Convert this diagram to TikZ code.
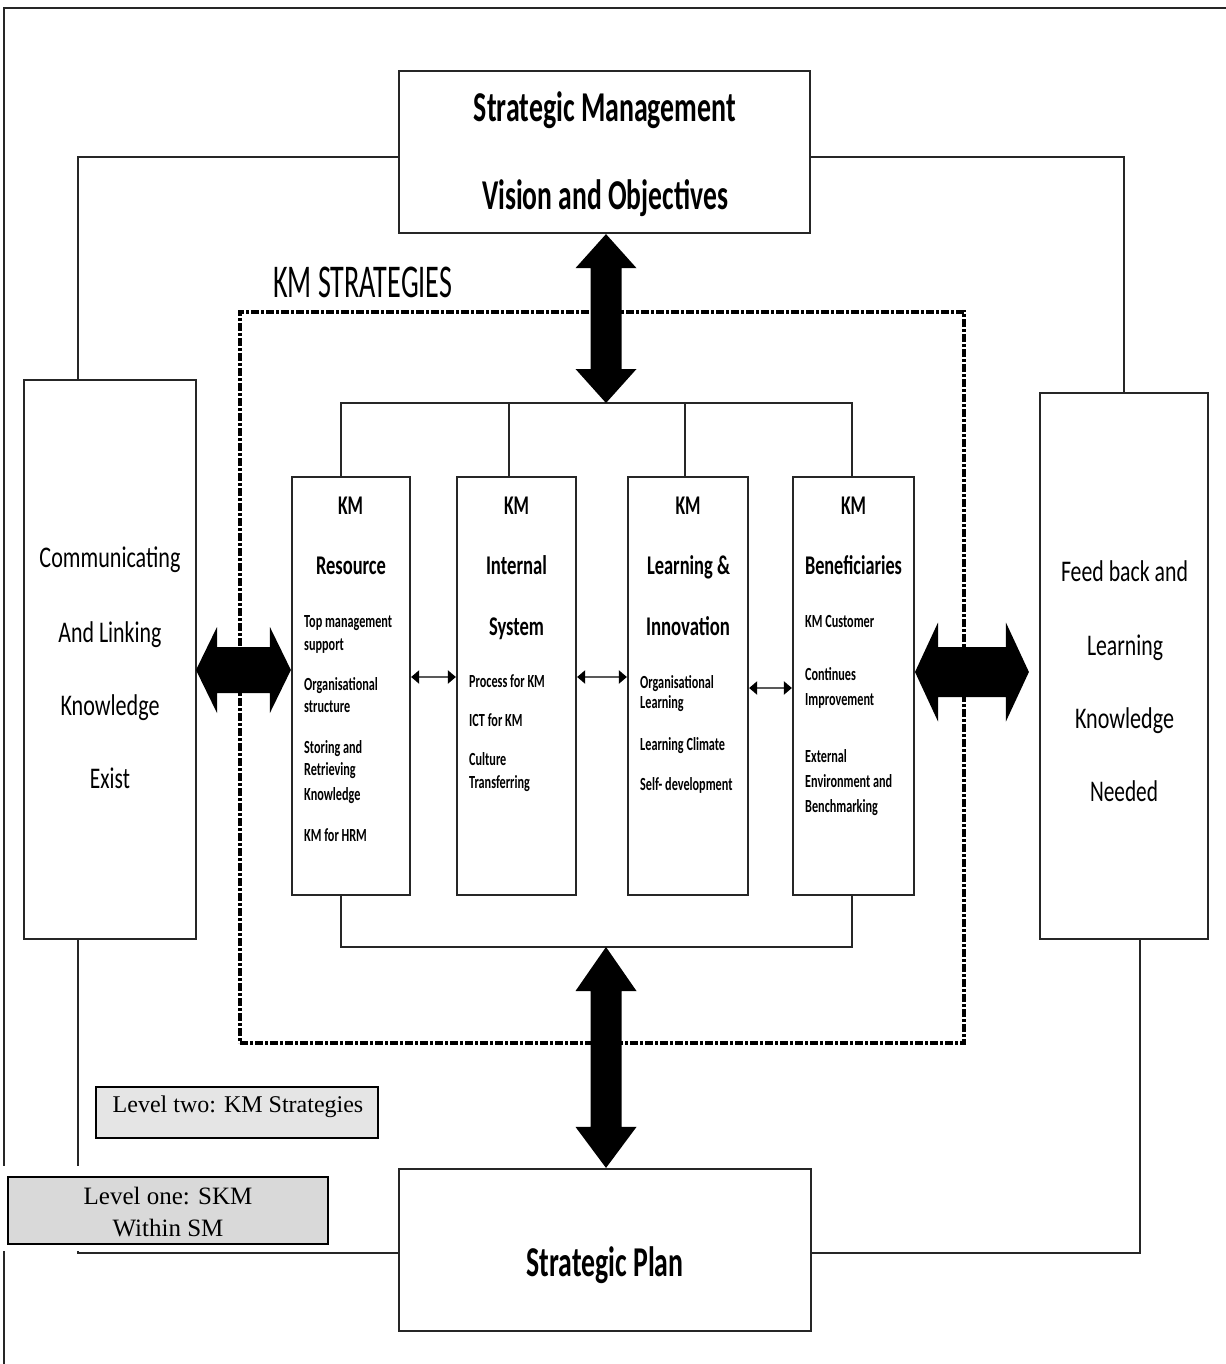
\documentclass[tikz,border=0pt]{standalone}
\usepackage{fontspec}
\usepackage{graphicx}
\setmainfont{Carlito}[FakeStretch=0.66]
\newfontfamily\tnrfont{Liberation Serif}
\usetikzlibrary{calc,arrows.meta}

% squeeze a label to a given width, keeping its natural height
\newcommand\wfit[2]{\resizebox{#1}{\height}{#2}}

% vertical double block arrow: top point, bottom point, top head length, bottom head length
\newcommand\vdarrow[4]{%
  \fill[black] let \p1=(#1), \p2=(#2) in
    (\x1,\y1) -- (\x1+30.5pt,\y1-#3) -- (\x1+15.5pt,\y1-#3) -- (\x1+15.5pt,\y2+#4)
    -- (\x1+30.5pt,\y2+#4) -- (\x1,\y2) -- (\x1-30.5pt,\y2+#4) -- (\x1-15.5pt,\y2+#4)
    -- (\x1-15.5pt,\y1-#3) -- (\x1-30.5pt,\y1-#3) -- cycle;}

% horizontal double block arrow: left point, right point, half head, half shaft, head length
\newcommand\hdarrow[5]{%
  \fill[black] let \p1=(#1), \p2=(#2) in
    (\x1,\y1) -- (\x1+#5,\y1+#3) -- (\x1+#5,\y1+#4) -- (\x2-#5,\y1+#4)
    -- (\x2-#5,\y1+#3) -- (\x2,\y1) -- (\x2-#5,\y1-#3) -- (\x2-#5,\y1-#4)
    -- (\x1+#5,\y1-#4) -- (\x1+#5,\y1-#3) -- cycle;}

\begin{document}
\begin{tikzpicture}[x=1pt,y=-1pt,line join=miter,
  block/.style={draw=black!85,line width=2.2pt,rectangle,inner sep=0pt},
  conn/.style={draw=black!85,line width=2pt},
  bigtitle/.style={font=\fontsize{42.5}{50}\selectfont\bfseries,anchor=base,inner sep=0pt},
  sidetxt/.style={font=\fontsize{30}{36}\selectfont,anchor=base,inner sep=0pt},
  coltitle/.style={font=\fontsize{27}{32}\selectfont\bfseries,anchor=base,inner sep=0pt},
  item/.style={font=\fontsize{18.5}{22}\selectfont\bfseries,anchor=base west,inner sep=0pt},
  leveltxt/.style={font=\tnrfont\fontsize{24}{30}\selectfont,anchor=base,inner sep=0pt},
  levelbox/.style={draw=black,line width=2pt,rectangle,inner sep=0pt},
  smallarr/.style={draw=black!65,line width=2.2pt,
    {Triangle[length=8pt,width=13pt,color=black]}-{Triangle[length=8pt,width=13pt,color=black]}},
  kmdash/.style={draw=black,line width=3.5pt,rectangle,inner sep=0pt,
    dash pattern=on 8pt off 2pt on 3pt off 2pt}
]
\useasboundingbox (0,0) rectangle (1225,1364);
\fill[white] (0,0) rectangle (1225,1364);

% page frame (left and top edges)
\coordinate (frBL) at (4,1366);
\coordinate (frTL) at (4,8);
\coordinate (frTR) at (1227,8);
\draw[conn] (frBL) -- (frTL) -- (frTR);

% main blocks
\node[block,minimum width=411pt,minimum height=162pt] (sm) at (604.5,152) {};
\node[block,minimum width=412pt,minimum height=162pt] (sp) at (605,1250) {};
\node[block,minimum width=172pt,minimum height=559pt] (lb) at (110,659.5) {};
\node[block,minimum width=168pt,minimum height=546pt] (rb) at (1124,666) {};

% KM strategies area
\node[kmdash,minimum width=724pt,minimum height=731pt] (kmarea) at (602,677.5) {};
\node[font=\fontsize{47}{56}\selectfont,anchor=base west,inner sep=0pt] (kmlabel) at (273,297) {\wfit{179pt}{KM STRATEGIES}};

% strategy columns
\node[block,minimum width=118pt,minimum height=418pt] (b1) at (351,686) {};
\node[block,minimum width=119pt,minimum height=418pt] (b2) at (516.5,686) {};
\node[block,minimum width=120pt,minimum height=418pt] (b3) at (688,686) {};
\node[block,minimum width=121pt,minimum height=418pt] (b4) at (853.5,686) {};

% outer loop connectors
\draw[conn] ($(sm.west)+(0,5)$) -| ($(lb.north west)+(55,0)$);
\draw[conn] ($(sm.east)+(0,5)$) -| (rb.north);
\draw[conn] ($(lb.south west)+(55,0)$) |- ($(sp.west)+(0,3)$);
\draw[conn] ($(rb.south)+(16,0)$) |- ($(sp.east)+(0,3)$);

% brackets joining the columns
\coordinate (hubT) at (606,403);
\coordinate (hubB) at (606,947);
\coordinate (b1t) at ($(b1.north west)+(50,0)$);
\coordinate (b2t) at ($(b2.north)+(-7.5,0)$);
\coordinate (b3t) at ($(b3.north)+(-3,0)$);
\coordinate (b4t) at ($(b4.north)+(-1.5,0)$);
\coordinate (b1b) at ($(b1.south west)+(50,0)$);
\coordinate (b4b) at ($(b4.south)+(-1.5,0)$);
\draw[conn] (b1t) -- (b1t |- hubT) -- (b4t |- hubT) -- (b4t);
\draw[conn] (b2t) -- (b2t |- hubT);
\draw[conn] (b3t) -- (b3t |- hubT);
\draw[conn] (b1b) -- (b1b |- hubB) -- (b4b |- hubB) -- (b4b);

% block arrows
\vdarrow{sm.south -| hubT}{hubT}{34pt}{34pt}
\vdarrow{hubB}{sp.north -| hubB}{44pt}{41pt}
\coordinate (la) at (196,670);
\coordinate (ra) at (915,672);
\hdarrow{la}{b1.west |- la}{43pt}{23pt}{21pt}
\hdarrow{ra}{$(rb.west |- ra)+(-10,0)$}{49.5pt}{25pt}{23pt}

% arrows between columns
\draw[smallarr] (b1.east |- 0,677) -- (b2.west |- 0,677);
\draw[smallarr] (b2.east |- 0,677) -- (b3.west |- 0,677);
\draw[smallarr] (b3.east |- 0,688) -- (b4.west |- 0,688);

% titles of the main blocks
\node[bigtitle] (smt1) at (605,122) {\wfit{262pt}{Strategic Management}};
\node[bigtitle] (smt2) at (605,210) {\wfit{246pt}{Vision and Objectives}};
\node[bigtitle] (spt) at (605,1276) {\wfit{157pt}{Strategic Plan}};

\node[sidetxt] (l1) at (110,567) {\wfit{141pt}{Communicating}};
\node[sidetxt] (l2) at (110,642) {\wfit{103pt}{And Linking}};
\node[sidetxt] (l3) at (110,715) {\wfit{99pt}{Knowledge}};
\node[sidetxt] (l4) at (110,788) {\wfit{40pt}{Exist}};

\node[sidetxt] (r1) at (1124.5,581) {\wfit{127pt}{Feed back and}};
\node[sidetxt] (r2) at (1125,655) {\wfit{76pt}{Learning}};
\node[sidetxt] (r3) at (1124.5,728) {\wfit{99pt}{Knowledge}};
\node[sidetxt] (r4) at (1124,801) {\wfit{68pt}{Needed}};

% column headings
\node[coltitle] (k1) at (350.5,514) {\wfit{25pt}{KM}};
\node[coltitle] (k2) at (516.5,514) {\wfit{25pt}{KM}};
\node[coltitle] (k3) at (688,514) {\wfit{25pt}{KM}};
\node[coltitle] (k4) at (853.5,514) {\wfit{25pt}{KM}};
\node[coltitle] (h1) at (351,574) {\wfit{70pt}{Resource}};
\node[coltitle] (h2) at (516.5,574) {\wfit{61pt}{Internal}};
\node[coltitle] (h2b) at (516.5,635) {\wfit{55pt}{System}};
\node[coltitle] (h3) at (688.5,574) {\wfit{83pt}{Learning \&}};
\node[coltitle] (h3b) at (688,635) {\wfit{84pt}{Innovation}};
\node[coltitle] (h4) at (853.5,574) {\wfit{97pt}{Beneficiaries}};

% column items
\node[item] (i11) at (304,627) {Top management};
\node[item] (i12) at (304,650) {support};
\node[item] (i13) at (304,690) {Organisational};
\node[item] (i14) at (304,712) {structure};
\node[item] (i15) at (304,753) {Storing and};
\node[item] (i16) at (304,775) {Retrieving};
\node[item] (i17) at (304,800) {Knowledge};
\node[item] (i18) at (304,841) {KM for HRM};

\node[item] (i21) at (469,687) {Process for KM};
\node[item] (i22) at (469,726) {ICT for KM};
\node[item] (i23) at (469,765) {Culture};
\node[item] (i24) at (469,788) {Transferring};

\node[item] (i31) at (640,688) {Organisational};
\node[item] (i32) at (640,708) {Learning};
\node[item] (i33) at (640,750) {Learning Climate};
\node[item] (i34) at (640,790) {Self- development};

\node[item] (i41) at (805,627) {KM Customer};
\node[item] (i42) at (805,680) {Continues};
\node[item] (i43) at (805,705) {Improvement};
\node[item] (i44) at (805,762) {External};
\node[item] (i45) at (805,787) {Environment and};
\node[item] (i46) at (805,812) {Benchmarking};

% level legends
\node[levelbox,fill=gray!20,minimum width=282pt,minimum height=51pt] (lv2) at (237,1112.5) {};
\node[leveltxt] (lv2t) at (238,1112) {Level two: KM Strategies};
\fill[white] (1.5,1166) rectangle (331,1251);
\node[levelbox,fill=gray!30,minimum width=320pt,minimum height=67pt] (lv1) at (168,1210.5) {};
\node[leveltxt,font=\tnrfont\fontsize{25}{30}\selectfont] (lv1a) at (168,1204) {Level one: SKM};
\node[leveltxt,font=\tnrfont\fontsize{25}{30}\selectfont] (lv1b) at (168,1236) {Within SM};
\end{tikzpicture}
\end{document}
